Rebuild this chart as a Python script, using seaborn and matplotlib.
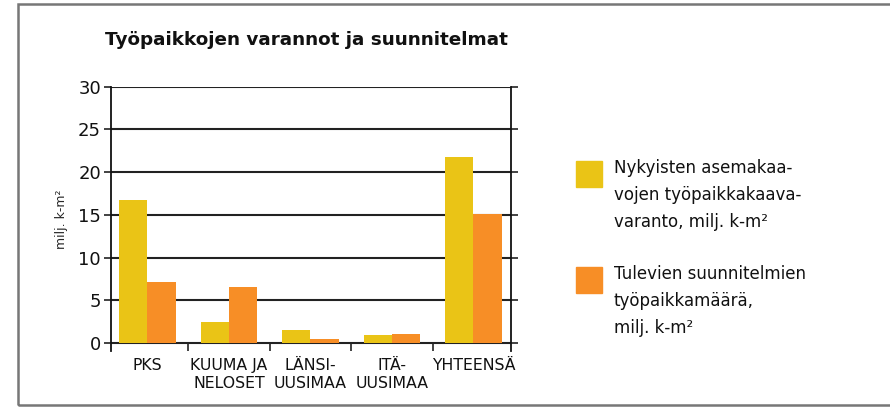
import pandas as pd
import seaborn as sns
import matplotlib.pyplot as plt
from matplotlib.patches import Rectangle

# data (milj. k-m2)
regions = ['PKS', 'KUUMA JA\nNELOSET', 'LÄNSI-\nUUSIMAA', 'ITÄ-\nUUSIMAA', 'YHTEENSÄ']
current_reserve = [16.7, 2.5, 1.6, 1.0, 21.8]
future_plans = [7.1, 6.6, 0.5, 1.1, 15.1]
series_names = ['Nykyisten asemakaavojen työpaikkakaavavaranto',
                'Tulevien suunnitelmien työpaikkamäärä']
legend_labels = ['Nykyisten asemakaa-\nvojen työpaikkakaava-\nvaranto, milj. k-m²',
                 'Tulevien suunnitelmien\ntyöpaikkamäärä,\nmilj. k-m²']
yticks = [0, 5, 10, 15, 20, 25, 30]
colors = ['#EAC416', '#F78E26']

df = pd.DataFrame({'alue': regions * 2,
                   'arvo': current_reserve + future_plans,
                   'sarja': [series_names[0]] * 5 + [series_names[1]] * 5})

sns.set_style('white')
plt.rcParams['font.family'] = ['DejaVu Sans']

fig = plt.figure(figsize=(8.9, 4.08), dpi=100)
ax = fig.add_axes([0.1244, 0.14, 0.4497, 0.6475])

sns.barplot(data=df, x='alue', y='arvo', hue='sarja', palette=colors,
            width=0.69, saturation=1, linewidth=0, edgecolor='none',
            ax=ax, legend=False)

ax.set_xlim(-0.45, 4.46)
ax.set_ylim(-0.9, 30)
ax.set_yticks(yticks)
ax.set_yticklabels([str(t) for t in yticks], fontsize=13, color='#111111')
ax.yaxis.grid(True, color='#222222', linewidth=1.5)
ax.set_axisbelow(True)
ax.tick_params(axis='y', left=True, right=True, direction='out', length=5,
               width=1.2, color='#222222', pad=2)

# category separators at the bottom
ax.set_xticks([0.5, 1.5, 2.5, 3.5], minor=True)
ax.tick_params(axis='x', which='minor', bottom=True, direction='in',
               length=5.5, width=1.2, color='#222222')
ax.tick_params(axis='x', which='major', length=0, pad=5, labelsize=11.3,
               labelcolor='#111111')
for lbl in ax.get_xticklabels():
    lbl.set_linespacing(1.25)
ax.set_xlabel('')

for s in ['top', 'bottom']:
    ax.spines[s].set_visible(False)
for s in ['left', 'right']:
    ax.spines[s].set_color('#111111')
    ax.spines[s].set_linewidth(1.3)

ax.set_ylabel('milj. k-m²', fontsize=9)
ax.yaxis.set_label_coords(-0.107, 0.5)

fig.text(0.118, 0.902, 'Työpaikkojen varannot ja suunnitelmat',
         fontsize=13.2, fontweight='bold', va='center', ha='left', color='#111111')

# legend drawn by hand so squares sit at the first text line
for i, (lab, col) in enumerate(zip(legend_labels, colors)):
    top = 161 + i * 106
    fig.patches.append(Rectangle((576 / 890, 1 - (top + 26) / 408), 26 / 890, 26 / 408,
                                 transform=fig.transFigure, color=col))
    fig.text(614 / 890, 1 - (top - 2) / 408, lab, fontsize=12, va='top', ha='left',
             linespacing=1.65, color='#111111')

# outer frame
fig.patches.append(Rectangle((18 / 890, 1 - 405 / 408), 880 / 890, 401 / 408,
                             transform=fig.transFigure, fill=False,
                             edgecolor='#777777', linewidth=1.8))

plt.savefig('out.png', dpi=100)
